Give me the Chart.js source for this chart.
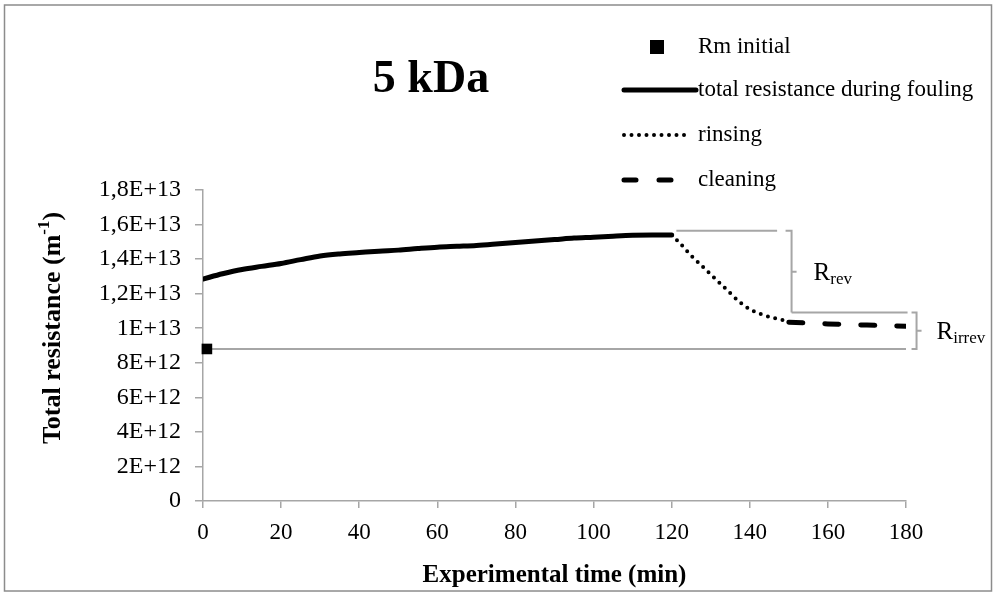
<!DOCTYPE html>
<html>
<head>
<meta charset="utf-8">
<script src="https://cdn.jsdelivr.net/npm/chart.js@4.4.1/dist/chart.umd.min.js"></script>
<style>
  body { margin: 0; background: #fff; }
</style>
</head>
<body>
<canvas id="c" width="996" height="595"></canvas>
<script>
// values
var rmTime = [1];
var rmR = [8.8e12];

var foulingTime = [0, 5, 10, 15, 20, 25, 30, 35, 40, 45, 50, 55, 60, 65, 70, 75, 80, 85, 90, 95, 100, 105, 110, 115, 120];
var foulingR = [1.285e13, 1.315e13, 1.34e13, 1.358e13, 1.375e13, 1.397e13, 1.418e13, 1.43e13, 1.438e13, 1.446e13, 1.452e13, 1.461e13, 1.469e13, 1.474e13, 1.479e13, 1.487e13, 1.496e13, 1.505e13, 1.513e13, 1.522e13, 1.527e13, 1.533e13, 1.538e13, 1.54e13, 1.54e13];

var rinsingTime = [120, 122, 125, 128, 131, 134, 137, 140, 143, 146, 150];
var rinsingR = [1.54e13, 1.495e13, 1.42e13, 1.355e13, 1.29e13, 1.225e13, 1.16e13, 1.11e13, 1.08e13, 1.06e13, 1.04e13];

var cleaningTime = [150, 160, 170, 180];
var cleaningR = [1.035e13, 1.025e13, 1.018e13, 1.012e13];

var xTicks = [0, 20, 40, 60, 80, 100, 120, 140, 160, 180];
var yTicks = [0, 2e12, 4e12, 6e12, 8e12, 1e13, 1.2e13, 1.4e13, 1.6e13, 1.8e13];

// levels used by the R_rev / R_irrev brackets
var revTop = 1.564e13;
var revBottom = 1.091e13;
var rmLevel = rmR[0];

var serif = "'Liberation Serif', 'Times New Roman', serif";
var gray = '#a6a6a6';

function pts(xs, ys) {
  return xs.map(function (v, i) { return { x: v, y: ys[i] }; });
}

// Excel style label: 1,8E+13
function sciLabel(v) {
  if (v === 0) return '0';
  var e = Math.floor(Math.log10(v) + 1e-9);
  var m = Math.round(v / Math.pow(10, e) * 10) / 10;
  return String(m).replace('.', ',') + 'E+' + e;
}

var framePlugin = {
  id: 'frame',
  beforeDraw: function (chart) {
    var ctx = chart.ctx;
    ctx.save();
    ctx.fillStyle = '#fff';
    ctx.fillRect(0, 0, chart.width, chart.height);
    ctx.strokeStyle = '#8c8c8c';
    ctx.lineWidth = 1.5;
    ctx.strokeRect(4.5, 5, 987, 586);
    ctx.restore();
  }
};

// gray guide lines + brackets
var bracketPlugin = {
  id: 'brackets',
  beforeDatasetsDraw: function (chart) {
    var ctx = chart.ctx, x = chart.scales.x, y = chart.scales.y;
    var yTop = y.getPixelForValue(revTop);
    var yMid = y.getPixelForValue(revBottom);
    var yRm = y.getPixelForValue(rmLevel);
    var bx1 = x.getPixelForValue(150.7);
    var bx2 = x.getPixelForValue(182.7);
    ctx.save();
    ctx.strokeStyle = gray;
    ctx.lineWidth = 2;
    ctx.beginPath();
    // top level
    ctx.moveTo(x.getPixelForValue(121.2), yTop);
    ctx.lineTo(x.getPixelForValue(147), yTop);
    // rev bracket
    ctx.moveTo(bx1 - 6, yTop);
    ctx.lineTo(bx1, yTop);
    ctx.lineTo(bx1, yMid);
    ctx.moveTo(bx1, (yTop + yMid) / 2);
    ctx.lineTo(bx1 + 5, (yTop + yMid) / 2);
    // middle level
    ctx.moveTo(bx1, yMid);
    ctx.lineTo(x.getPixelForValue(180.4), yMid);
    // irrev bracket
    ctx.moveTo(bx2 - 5, yMid);
    ctx.lineTo(bx2, yMid);
    ctx.lineTo(bx2, yRm);
    ctx.lineTo(bx2 - 5, yRm);
    ctx.moveTo(bx2, (yMid + yRm) / 2);
    ctx.lineTo(bx2 + 5, (yMid + yRm) / 2);
    // Rm level
    ctx.moveTo(x.getPixelForValue(1.5), yRm);
    ctx.lineTo(x.getPixelForValue(180), yRm);
    ctx.stroke();
    ctx.restore();
  },
  afterDraw: function (chart) {
    var ctx = chart.ctx, x = chart.scales.x, y = chart.scales.y;
    var yTop = y.getPixelForValue(revTop);
    var yMid = y.getPixelForValue(revBottom);
    var yRm = y.getPixelForValue(rmLevel);
    var bx1 = x.getPixelForValue(150.7);
    var bx2 = x.getPixelForValue(182.7);
    ctx.save();
    ctx.fillStyle = '#000';
    ctx.textBaseline = 'alphabetic';
    function sub(main, small, px, base) {
      ctx.font = '25px ' + serif;
      ctx.textAlign = 'left';
      ctx.fillText(main, px, base);
      var w = ctx.measureText(main).width;
      ctx.font = '17px ' + serif;
      ctx.fillText(small, px + w, base + 4);
    }
    sub('R', 'rev', bx1 + 22, (yTop + yMid) / 2 + 8);
    sub('R', 'irrev', bx2 + 20, (yMid + yRm) / 2 + 8);

    // y axis title with superscript
    ctx.save();
    ctx.translate(53, 328);
    ctx.rotate(-Math.PI / 2);
    var f1 = 'bold 26px ' + serif, f2 = 'bold 17px ' + serif;
    ctx.font = f1;
    var a = 'Total resistance (m', c = ')';
    var wa = ctx.measureText(a).width, wc = ctx.measureText(c).width;
    ctx.font = f2;
    var wb = ctx.measureText('-1').width;
    var start = -(wa + wb + wc) / 2;
    ctx.textBaseline = 'middle';
    ctx.textAlign = 'left';
    ctx.font = f1;
    ctx.fillText(a, start, 0);
    ctx.font = f2;
    ctx.fillText('-1', start + wa, -8);
    ctx.font = f1;
    ctx.fillText(c, start + wa + wb, 0);
    ctx.restore();

    // chart title
    ctx.font = 'bold 46px ' + serif;
    ctx.textAlign = 'center';
    ctx.textBaseline = 'middle';
    ctx.fillText('5 kDa', 431, 80);

    // legend
    var lx = 698;
    ctx.font = '23px ' + serif;
    ctx.textAlign = 'left';
    ctx.fillRect(650, 40, 14, 14);
    ctx.fillText('Rm initial', lx, 47);

    ctx.strokeStyle = '#000';
    ctx.lineCap = 'round';
    ctx.lineWidth = 5;
    ctx.beginPath();
    ctx.moveTo(624, 90);
    ctx.lineTo(696, 90);
    ctx.stroke();
    ctx.fillText('total resistance during fouling', lx, 90);

    ctx.lineWidth = 4;
    ctx.setLineDash([0, 7.5]);
    ctx.beginPath();
    ctx.moveTo(624, 135);
    ctx.lineTo(690, 135);
    ctx.stroke();
    ctx.fillText('rinsing', lx, 135);

    ctx.lineWidth = 5;
    ctx.setLineDash([12, 23]);
    ctx.beginPath();
    ctx.moveTo(624, 180);
    ctx.lineTo(673, 180);
    ctx.stroke();
    ctx.setLineDash([]);
    ctx.fillText('cleaning', lx, 180);
    ctx.restore();
  }
};

new Chart(document.getElementById('c'), {
  type: 'line',
  data: {
    datasets: [{
      label: 'Rm initial',
      data: pts(rmTime, rmR),
      showLine: false,
      pointStyle: 'rect',
      pointRadius: 7.5,
      backgroundColor: '#000',
      borderColor: '#000',
      borderWidth: 0,
      clip: false
    }, {
      label: 'total resistance during fouling',
      data: pts(foulingTime, foulingR),
      borderColor: '#000',
      borderWidth: 5,
      borderCapStyle: 'round',
      pointRadius: 0,
      cubicInterpolationMode: 'monotone'
    }, {
      label: 'rinsing',
      data: pts(rinsingTime, rinsingR),
      borderColor: '#000',
      borderWidth: 4,
      borderDash: [0, 7.5],
      borderCapStyle: 'round',
      pointRadius: 0,
      cubicInterpolationMode: 'monotone'
    }, {
      label: 'cleaning',
      data: pts(cleaningTime, cleaningR),
      borderColor: '#000',
      borderWidth: 5,
      borderDash: [14, 22],
      borderCapStyle: 'round',
      pointRadius: 0
    }]
  },
  options: {
    responsive: false,
    animation: false,
    layout: { padding: { left: 0, right: 90, top: 190, bottom: 0 } },
    plugins: {
      legend: { display: false },
      title: { display: false },
      tooltip: { enabled: false }
    },
    scales: {
      x: {
        type: 'linear',
        min: 0,
        max: 180,
        afterBuildTicks: function (s) { s.ticks = xTicks.map(function (v) { return { value: v }; }); },
        afterFit: function (s) { s.height = 94; },
        ticks: { color: '#000', font: { family: serif, size: 23 }, padding: 11, maxRotation: 0 },
        grid: { drawOnChartArea: false, drawTicks: true, tickLength: 7, color: gray, lineWidth: 1.5 },
        border: { color: gray, width: 1.5 },
        title: {
          display: true,
          text: 'Experimental time (min)',
          color: '#000',
          font: { family: serif, size: 25, weight: 'bold' },
          padding: { top: 0, bottom: 4 }
        }
      },
      y: {
        min: 0,
        max: 1.8e13,
        afterBuildTicks: function (s) { s.ticks = yTicks.map(function (v) { return { value: v }; }); },
        afterFit: function (s) { s.width = 203; },
        ticks: { color: '#000', font: { family: serif, size: 24 }, padding: 14, callback: function (v) { return sciLabel(v); } },
        grid: { drawOnChartArea: false, drawTicks: true, tickLength: 8, color: gray, lineWidth: 1.5 },
        border: { color: gray, width: 1.5 }
      }
    }
  },
  plugins: [framePlugin, bracketPlugin]
});
</script>
</body>
</html>
